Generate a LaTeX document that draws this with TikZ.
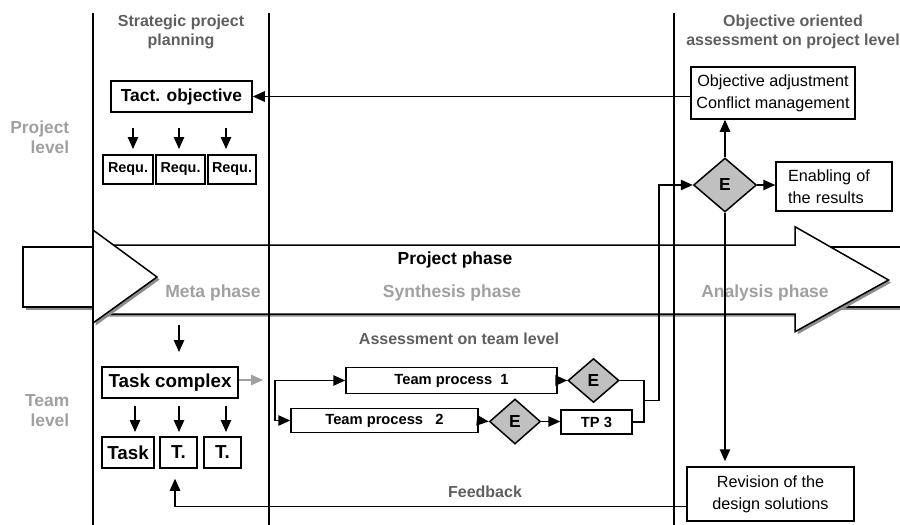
\documentclass[tikz,border=0pt]{standalone}
\usepackage{fontspec}
\setmainfont{Liberation Sans}
\usetikzlibrary{shapes.geometric,arrows.meta,shadows}
\definecolor{darkgrey}{HTML}{5F5F5F}
\definecolor{lightgrey}{HTML}{A0A0A0}
\definecolor{diamondfill}{HTML}{C0C0C0}

\begin{document}
\begin{tikzpicture}[x=0.5pt,y=-0.5pt, line width=0.75pt,
  >={Triangle[length=6pt,width=5.2pt]},
  boxb/.style={draw, fill=white, inner sep=0pt, font=\bfseries},
  boxr/.style={draw, fill=white, inner sep=0pt, align=center,
    font=\fontsize{8.1}{11}\selectfont},
  fTask/.style={font=\fontsize{9.4}{11}\selectfont\bfseries},
  fTact/.style={font=\fontsize{8.7}{11}\selectfont\bfseries},
  fReq/.style={font=\fontsize{7.2}{9}\selectfont\bfseries},
  fTeam/.style={font=\fontsize{7.35}{9}\selectfont\bfseries},
  dia/.style={diamond, draw, fill=diamondfill, inner sep=0pt,
    font=\fontsize{8.7}{10}\selectfont\bfseries},
  band/.style={draw, fill=white, line width=0.75pt,
    drop shadow={shadow xshift=1.3pt, shadow yshift=-1.3pt,
      fill=black!45, opacity=1}},
  lane/.style={line width=0.65pt},
  title/.style={text=darkgrey, align=center,
    font=\fontsize{8}{9.5}\selectfont\bfseries},
  level/.style={text=lightgrey, align=right, anchor=east, inner sep=0pt,
    font=\fontsize{8.7}{10}\selectfont\bfseries},
  phase/.style={text=lightgrey, font=\fontsize{8.75}{10}\selectfont\bfseries},
  arr/.style={->},
  grayarr/.style={->, draw=lightgrey, line width=0.85pt}
]
\useasboundingbox (0,0) rectangle (900,525);

% project phase band: through-going strip, main arrow and entry head
\path[band] (23,247) rectangle (906,307);
\path[band] (96,245) -- (795,245) -- (795,226.7) -- (888.5,280)
  -- (795,331.7) -- (795,314) -- (96,314) -- cycle;
\path[band] (93,230) -- (157,277) -- (93,323) -- cycle;

% swimlane separators
\draw[lane] (93,13) -- (93,525);
\draw[lane] (269,13) -- (269,525);
\draw[lane] (674,13) -- (674,525);

% headings
\node[title] (hstrat) at (181,31.5) {Strategic project\\planning};
\node[title] (hobj) at (793,31.5) {Objective oriented\\assessment on project level};
\node[level] (lproj) at (70,137) {Project\\level};
\node[level] (lteam) at (70,411) {Team\\level};

% phase labels on the band
\node[font=\fontsize{8.75}{10}\selectfont\bfseries] (pphase) at (455,260) {Project phase};
\node[phase] (pmeta) at (213,293) {Meta phase};
\node[phase] (psyn) at (452,293) {Synthesis phase};
\node[phase] (pana) at (765,293) {Analysis phase};

\node[title] (hassess) at (459,339) {Assessment on team level};
\node[title] (hfeed) at (485,492) {Feedback};

% project level: objectives and requirements
\node[boxb, fTact, minimum width=70.5pt, minimum height=15.5pt] (tact) at (181.5,96.5) {Tact. objective};
\node[boxb, fReq, minimum width=25pt, minimum height=14.5pt] (req1) at (128,169.5) {Requ.};
\node[boxb, fReq, minimum width=24.5pt, minimum height=14.5pt] (req2) at (180.5,169.5) {Requ.};
\node[boxb, fReq, minimum width=24pt, minimum height=14.5pt] (req3) at (232,169.5) {Requ.};

\coordinate (ra1) at (133,128); \coordinate (rb1) at (133,149);
\coordinate (ra2) at (179,128); \coordinate (rb2) at (179,149);
\coordinate (ra3) at (226,128); \coordinate (rb3) at (226,149);
\draw[arr] (ra1) -- (rb1);
\draw[arr] (ra2) -- (rb2);
\draw[arr] (ra3) -- (rb3);

% objective assessment column
\node[boxr, minimum width=82pt, minimum height=26pt] (obj) at (773,93)
  {Objective adjustment\\Conflict management};
\node[dia, minimum width=31.5pt, minimum height=27pt] (d0) at (725,185) {E};
\node[boxr, text width=46pt, align=left, inner xsep=6pt, minimum height=24.5pt] (enab) at (834,186.5)
  {Enabling of\\the results};
\node[boxr, minimum width=83.5pt, minimum height=27pt] (rev) at (770.5,494)
  {Revision of the\\design solutions};

\draw[arr] (tact.east -| obj.west) -- (tact.east);
\draw[arr] (d0.north) -- (d0.north |- obj.south);
\draw[arr] (d0.east) -- (d0.east -| enab.west);
\draw[arr, shorten >=2.5pt] (d0.south) -- (d0.south |- rev.north);

% team level: task breakdown
\coordinate (ma) at (179,325); \coordinate (mb) at (179,352);
\draw[arr] (ma) -- (mb);
\node[boxb, fTask, minimum width=68pt, minimum height=15.5pt] (taskc) at (170,382.5) {Task complex};
\node[boxb, fTask, minimum width=26pt, minimum height=15.5pt] (task1) at (128,452.5) {Task};
\node[boxb, fTask, minimum width=18.5pt, minimum height=15.5pt] (task2) at (178.5,452.5) {T.};
\node[boxb, fTask, minimum width=18.5pt, minimum height=15.5pt] (task3) at (222.5,452.5) {T.};

\coordinate (ta1) at (135,406); \coordinate (tb1) at (135,432);
\coordinate (ta2) at (179,406); \coordinate (tb2) at (179,432);
\coordinate (ta3) at (226,406); \coordinate (tb3) at (226,432);
\draw[arr] (ta1) -- (tb1);
\draw[arr] (ta2) -- (tb2);
\draw[arr] (ta3) -- (tb3);

\coordinate (gend) at (263,380);
\draw[grayarr] (taskc.east |- gend) -- (gend);

% team processes and their assessment
\node[boxb, fTeam, minimum width=105.5pt, minimum height=13pt] (tp1) at (451.5,380.5) {Team process~~1};
\node[boxb, fTeam, minimum width=93.5pt, minimum height=12pt] (tp2) at (384.5,420.5) {Team process~~~2};
\node[boxb, fTeam, minimum width=35.5pt, minimum height=12pt] (tp3) at (596.5,422) {TP 3};
\node[dia, minimum width=25.5pt, minimum height=22pt] (d1) at (593.5,380.5) {E};
\node[dia, minimum width=25.5pt, minimum height=22.5pt] (d2) at (515,421.5) {E};

\coordinate (br) at (275,380.5);
\draw[<->] (tp1.west) -- (br) |- (tp2.west);
\draw[arr] (tp1.east) -- (d1.west);
\draw[arr] (tp2.east) -- (d2.west);
\draw[arr] (d2.east) -- (tp3.west |- d2.east);

\coordinate (mx) at (644,400.5);
\coordinate (up) at (659,400.5);
\draw (d1.east) -| (mx) |- (tp3.east);
\draw[arr] (mx) -- (up) |- (d0.west);

% feedback loop
\coordinate (fb) at (600,506.5);
\draw[arr, shorten >=5pt] (rev.west |- fb) -| ([xshift=-1.75pt]task2.south);

\end{tikzpicture}
\end{document}
